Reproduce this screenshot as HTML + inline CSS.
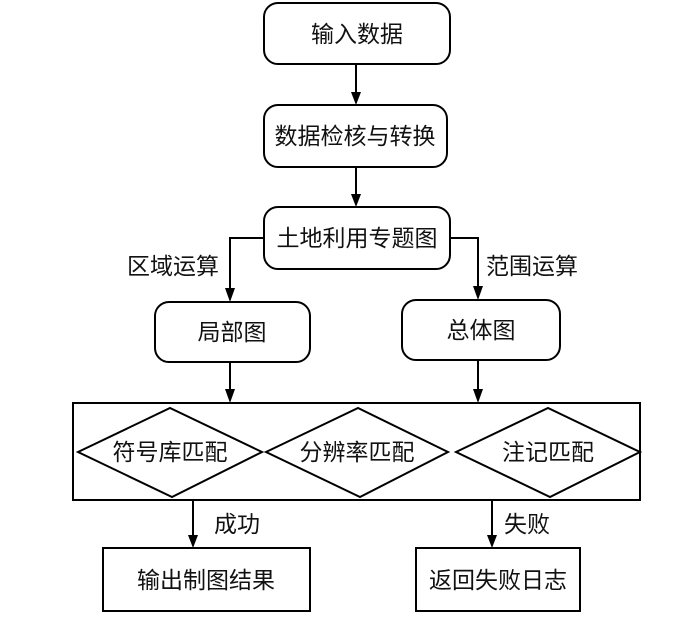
<!DOCTYPE html>
<html><head><meta charset="utf-8"><style>
body{margin:0;background:#fff}
svg text{font-family:"Liberation Sans","Noto Sans CJK SC",sans-serif;font-size:23px;fill:#111;text-anchor:middle;dominant-baseline:central}
</style></head><body>
<svg width="700" height="613" xmlns="http://www.w3.org/2000/svg">
<defs><marker id="a" markerWidth="10" markerHeight="14" refX="5" refY="14" orient="auto" markerUnits="userSpaceOnUse"><path d="M0,0 L10,0 L5,14 Z" transform="rotate(-90 5 7) translate(0,0)" fill="#000"/></marker></defs>
<g stroke="#000" stroke-width="2" fill="none">
<rect x="264" y="3" width="186" height="61" rx="14"/>
<rect x="264" y="105" width="183" height="62" rx="14"/>
<rect x="264" y="207" width="186" height="62" rx="14"/>
<rect x="155" y="302" width="155" height="60" rx="14"/>
<rect x="402" y="300" width="158" height="60" rx="14"/>
<rect x="73" y="403" width="567" height="97"/>
<polygon points="78,452 170,408 262,452 172,497"/>
<polygon points="266,452 358,408 448,452 360,497"/>
<polygon points="456,452 548,408 640,452 550,497"/>
<rect x="103" y="548" width="207" height="63"/>
<rect x="416" y="548" width="164" height="63"/>
<path d="M356,64V95 M356,167V197 M264,238H230V290 M450,238H478V288 M230,362V393 M478,360V393 M193,500V538 M492,500V538"/>
</g>
<g fill="#000">
<path d="M351,92L361,92L356,105Z"/><path d="M351,194L361,194L356,207Z"/>
<path d="M225,288L235,288L230,302Z"/><path d="M473,286L483,286L478,300Z"/>
<path d="M225,389L235,389L230,403Z"/><path d="M473,389L483,389L478,403Z"/>
<path d="M188,535L198,535L193,548Z"/><path d="M487,535L497,535L492,548Z"/>
</g>
<text x="357" y="34">输入数据</text>
<text x="355" y="136">数据检核与转换</text>
<text x="357" y="238">土地利用专题图</text>
<text x="173" y="266">区域运算</text>
<text x="532" y="266">范围运算</text>
<text x="232" y="332">局部图</text>
<text x="481" y="330">总体图</text>
<text x="170" y="452">符号库匹配</text>
<text x="357" y="452">分辨率匹配</text>
<text x="548" y="452">注记匹配</text>
<text x="237" y="524">成功</text>
<text x="527" y="524">失败</text>
<text x="206" y="580">输出制图结果</text>
<text x="498" y="580">返回失败日志</text>
</svg>
</body></html>
